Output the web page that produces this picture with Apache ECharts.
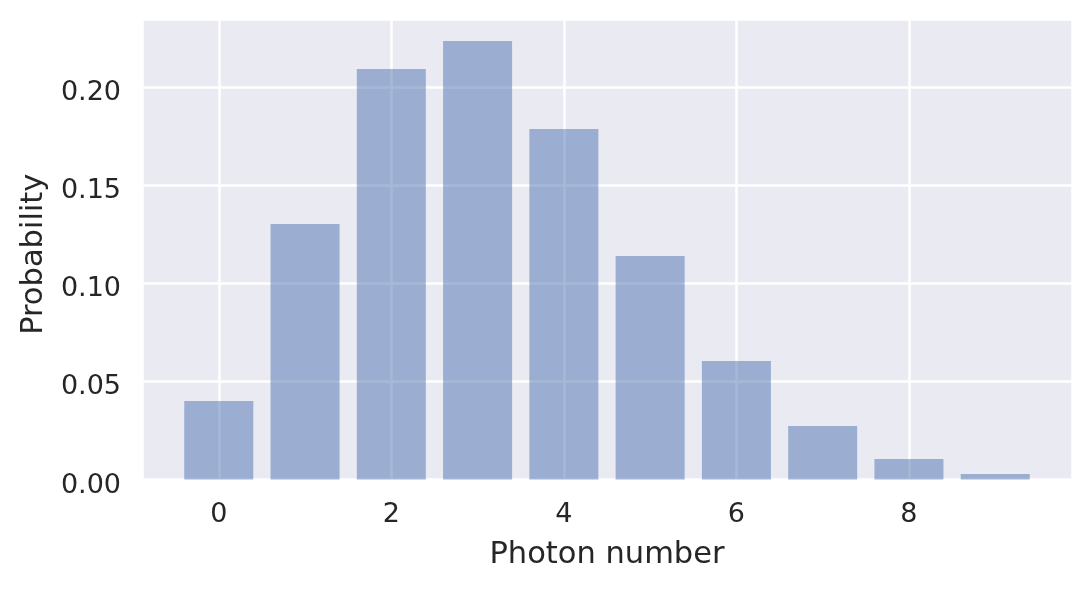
<!DOCTYPE html>
<html>
<head>
<meta charset="utf-8">
<script src="https://cdn.jsdelivr.net/npm/echarts@6/dist/echarts.min.js"></script>
<style>
html,body{margin:0;padding:0;background:#fff;}
#chart{width:1091px;height:589px;}
</style>
</head>
<body>
<div id="chart"></div>
<script>
const photonNumbers = [0, 1, 2, 3, 4, 5, 6, 7, 8, 9];
const probabilities = [0.0400, 0.1303, 0.2093, 0.2236, 0.1787, 0.1140, 0.0604, 0.0273, 0.0105, 0.0028];
const xLabel = 'Photon number';
const yLabel = 'Probability';

const chart = echarts.init(document.getElementById('chart'), null, {renderer: 'canvas'});
const FONT = 'DejaVu Sans';
const TXT = '#262626';
const xMin = -0.89, xMax = 9.89;
const yMax = 0.2348;
const plotW = 1091 - 142 - 19;
const barW = 0.8 * plotW / (xMax - xMin);

chart.setOption({
  animation: false,
  backgroundColor: '#ffffff',
  grid: {left: 142, right: 19, top: 19, bottom: 109.5, show: true, backgroundColor: '#eaeaf2', borderWidth: 0},
  xAxis: {
    type: 'value', min: xMin, max: xMax,
    axisLine: {show: false}, axisTick: {show: false},
    splitLine: {show: true, lineStyle: {color: '#ffffff', width: 2.5}},
    axisLabel: {showMinLabel: false, showMaxLabel: false, color: TXT, fontFamily: FONT, fontSize: 27, margin: 22,
      formatter: v => String(Math.round(v))},
    name: xLabel, nameLocation: 'middle', nameGap: 60,
    nameTextStyle: {color: TXT, fontFamily: FONT, fontSize: 30.5}
  },
  yAxis: {
    type: 'value', min: 0, max: yMax, interval: 0.05,
    axisLine: {show: false}, axisTick: {show: false},
    splitLine: {show: true, lineStyle: {color: '#ffffff', width: 2.5}},
    axisLabel: {showMaxLabel: false, color: TXT, fontFamily: FONT, fontSize: 27, margin: 21,
      verticalAlign: 'top', lineHeight: 12,
      formatter: v => v.toFixed(2)},
    name: yLabel, nameLocation: 'middle', nameGap: 92,
    nameTextStyle: {color: TXT, fontFamily: FONT, fontSize: 30.5, padding: [0, 10, 0, 0]}
  },
  series: [{
    type: 'bar',
    data: photonNumbers.map((n, i) => [n, probabilities[i]]),
    barWidth: barW,
    itemStyle: {color: 'rgba(76,114,176,0.5)'}
  }]
});
</script>
</body>
</html>
